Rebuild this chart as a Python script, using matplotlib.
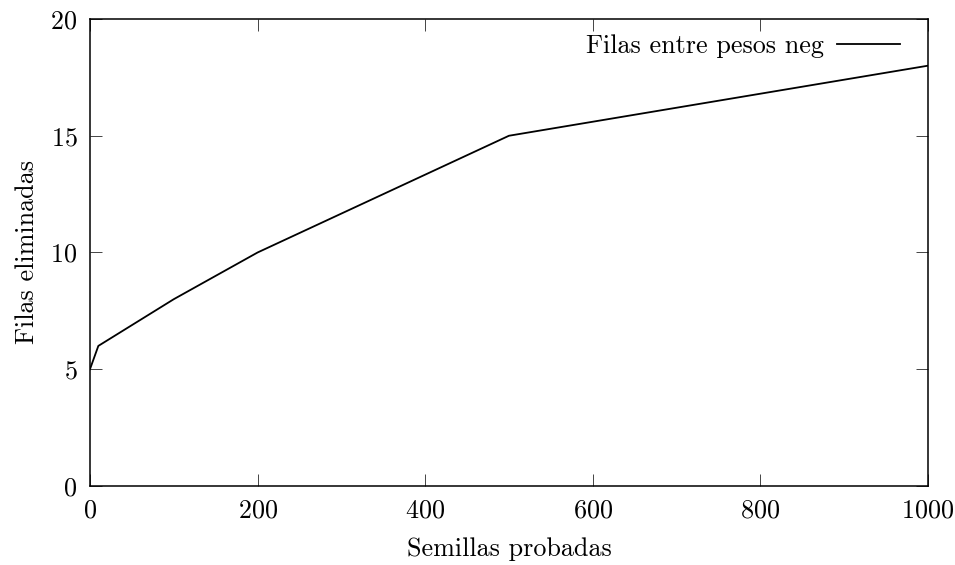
import matplotlib
matplotlib.use('Agg')
import matplotlib.pyplot as plt

# Data
semillas = [0, 10, 100, 200, 500, 1000]
filas = [5, 6, 8, 10, 15, 18]
xticks = [0, 200, 400, 600, 800, 1000]
yticks = [0, 5, 10, 15, 20]

plt.rcParams['font.family'] = ['cmr10', 'DejaVu Serif']
plt.rcParams['axes.formatter.use_mathtext'] = True
plt.rcParams['font.size'] = 18.8

fig = plt.figure(figsize=(9.55, 5.65), dpi=100)
ax = fig.add_axes([0.0942, 0.1398, 0.8775, 0.8266])

ax.plot(semillas, filas, color='black', linewidth=1.3, label='Filas entre pesos neg')

ax.set_xlim(0, 1000)
ax.set_ylim(0, 20)
ax.set_xticks(xticks)
ax.set_yticks(yticks)
ax.tick_params(direction='in', length=8.5, width=0.7, color='#444444',
               top=True, right=True)
ax.tick_params(axis='x', pad=9)
ax.tick_params(axis='y', pad=9)
for s in ax.spines.values():
    s.set_linewidth(1.1)

ax.set_xlabel('Semillas probadas', labelpad=11)
ax.set_ylabel('Filas eliminadas', labelpad=8)

ax.legend(loc='upper right', bbox_to_anchor=(0.979, 0.99), frameon=False,
          markerfirst=False, handlelength=2.4, handletextpad=0.5,
          borderaxespad=0)

fig.savefig('out.png', dpi=100)
